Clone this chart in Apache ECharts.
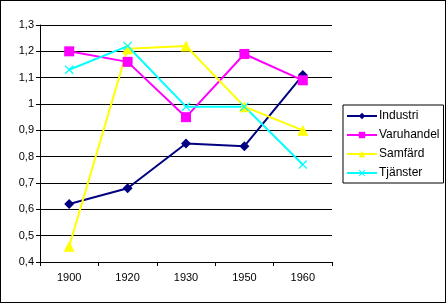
<!DOCTYPE html>
<html><head><meta charset="utf-8">
<script src="https://cdn.jsdelivr.net/npm/echarts@6/dist/echarts.min.js"></script>
<style>html,body{margin:0;padding:0;background:#fff}#c{width:446px;height:303px;box-sizing:border-box;border:1px solid #000}</style>
</head><body><div id="c"></div>
<script>
const categories = ['1900','1920','1930','1950','1960'];
const industri   = [0.62, 0.68, 0.85, 0.84, 1.11];
const varuhandel = [1.20, 1.16, 0.95, 1.19, 1.09];
const samfard    = [0.46, 1.21, 1.22, 0.99, 0.90];
const tjanster   = [1.13, 1.22, 0.99, 0.99, 0.77];
const seriesNames = ['Industri','Varuhandel','Samfärd','Tjänster'];

const crossPath = 'path://M0,1L1,0L5,4L9,0L10,1L6,5L10,9L9,10L5,6L1,10L0,9L4,5Z';
const font = 'Liberation Sans, Arial, sans-serif';
const chart = echarts.init(document.getElementById('c'), null, {renderer:'canvas'});
function mk(name, data, color, symbol, size){
  return {name, type:'line', data, symbol, symbolSize:size, showAllSymbol:true,
    lineStyle:{color, width:2}, itemStyle:{color, borderWidth:0}, animation:false};
}
chart.setOption({
  animation:false,
  grid:{left:39, top:24, right:113, bottom:40},
  legend:{
    orient:'vertical', left:342, top:104, width:94, height:76,
    padding:[5,4,4,3], itemGap:7, itemWidth:30, itemHeight:8,
    backgroundColor:'#fff', borderColor:'#000', borderWidth:1, borderRadius:0,
    textStyle:{fontFamily:font, fontSize:12, color:'#000', padding:[0,0,0,-3]},
    data:seriesNames
  },
  xAxis:{type:'category', data:categories, boundaryGap:true,
    axisLine:{lineStyle:{color:'#000', width:1}},
    axisTick:{show:true, length:4, lineStyle:{color:'#000'}},
    axisLabel:{fontFamily:font, fontSize:11, color:'#000', margin:10},
    splitLine:{show:false}},
  yAxis:{type:'value', min:0.4, max:1.3, interval:0.1,
    axisLine:{show:true, lineStyle:{color:'#000', width:1}},
    axisTick:{show:true, length:4, lineStyle:{color:'#000'}},
    axisLabel:{fontFamily:font, fontSize:11, color:'#000', margin:6,
      formatter:v=>String(Math.round(v*10)/10).replace('.',',')},
    splitLine:{show:true, lineStyle:{color:'#000', width:1}}},
  series:[
    mk(seriesNames[0], industri, '#000080', 'diamond', 10),
    mk(seriesNames[1], varuhandel, '#ff00ff', 'rect', 10),
    mk(seriesNames[2], samfard, '#ffff00', 'triangle', 11),
    mk(seriesNames[3], tjanster, '#00ffff', crossPath, 9)
  ]
});
</script></body></html>
